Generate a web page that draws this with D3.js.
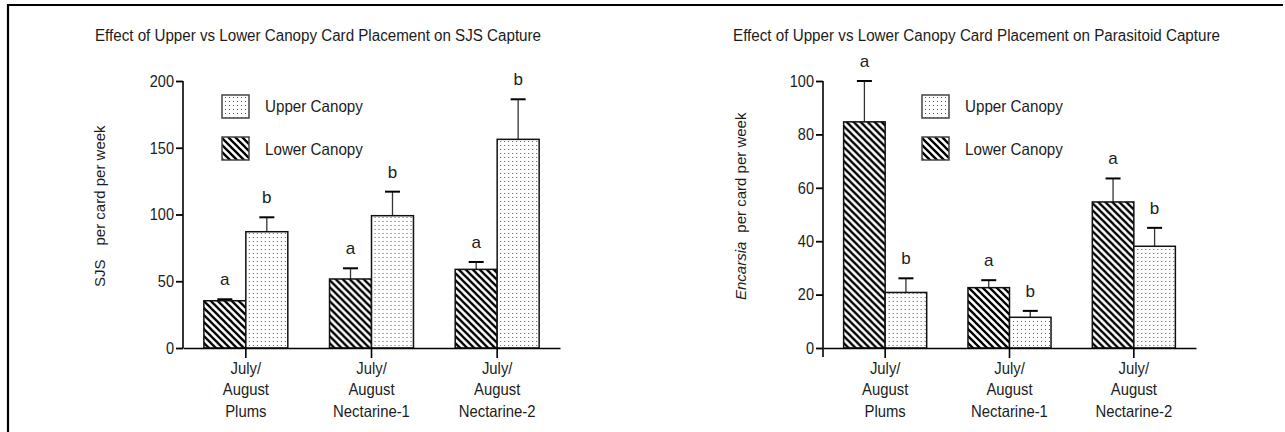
<!DOCTYPE html>
<html><head><meta charset="utf-8">
<script src="https://cdn.jsdelivr.net/npm/d3@7"></script>
<style>
body{margin:0;background:#fff}
svg{display:block}
text{font-family:"Liberation Sans",Arial,sans-serif;fill:#1c1c1c}
</style>
</head><body>
<svg id="c" width="1285" height="432"></svg>
<script>
// ---------- data ----------
const categories = [["July/","August","Plums"],["July/","August","Nectarine-1"],["July/","August","Nectarine-2"]];
const seriesNames = ["Lower Canopy","Upper Canopy"];
const legendOrder = ["Upper Canopy","Lower Canopy"];

// SJS capture (per card per week), mean and upper error
const sjsLower = [35.4, 51.7, 58.9];
const sjsLowerErr = [1.1, 8.0, 5.5];
const sjsUpper = [87.1, 99.1, 156.3];
const sjsUpperErr = [10.8, 18.0, 30.0];
const sjsLowerLetters = ["a","a","a"];
const sjsUpperLetters = ["b","b","b"];
const sjsTicks = [0, 50, 100, 150, 200];

// Encarsia capture (per card per week)
const encLower = [84.7, 22.6, 54.7];
const encLowerErr = [15.3, 2.8, 8.8];
const encUpper = [20.8, 11.5, 38.1];
const encUpperErr = [5.3, 2.4, 6.9];
const encLowerLetters = ["a","a","a"];
const encUpperLetters = ["b","b","b"];
const encTicks = [0, 20, 40, 60, 80, 100];

const titles = ["Effect of Upper vs Lower Canopy Card Placement on SJS Capture",
                "Effect of Upper vs Lower Canopy Card Placement on Parasitoid Capture"];

// ---------- drawing ----------
const SQ = 0.91; // narrow-font look
function squeeze(sel, k){
  sel.each(function(){
    const len = this.getComputedTextLength();
    d3.select(this).attr("textLength", len*(k||SQ)).attr("lengthAdjust","spacingAndGlyphs");
  });
}

const svg = d3.select("#c");
svg.append("rect").attr("width",1285).attr("height",432).attr("fill","#fff");

const defs = svg.append("defs");
const hatch = defs.append("pattern").attr("id","hatch").attr("patternUnits","userSpaceOnUse")
  .attr("width",7).attr("height",7);
hatch.append("rect").attr("width",7).attr("height",7).attr("fill","#fff");
hatch.append("path").attr("d","M-1,-1L8,8M-1,6L1,8M6,-1L8,1")
  .attr("stroke","#000").attr("stroke-width",2.3);
const dots = defs.append("pattern").attr("id","dots").attr("patternUnits","userSpaceOnUse")
  .attr("width",4).attr("height",4);
dots.append("rect").attr("width",4).attr("height",4).attr("fill","#fff");
dots.append("rect").attr("x",1).attr("y",1).attr("width",1).attr("height",1).attr("fill","#555");

const fills = {"Lower Canopy":"url(#hatch)","Upper Canopy":"url(#dots)"};

// frame
svg.append("line").attr("x1",7).attr("x2",1283).attr("y1",5).attr("y2",5).attr("stroke","#000").attr("stroke-width",2.2);
svg.append("line").attr("x1",8).attr("x2",8).attr("y1",4).attr("y2",432).attr("stroke","#000").attr("stroke-width",2.2);

function drawChart(cfg){
  const g = svg.append("g");
  const x = d3.scaleBand().domain(d3.range(categories.length)).range([cfg.x0,cfg.x1])
    .paddingInner(0.332).paddingOuter(0.166);
  const xs = d3.scaleBand().domain(seriesNames).range([0,x.bandwidth()]);
  const y = d3.scaleLinear().domain([0, d3.max(cfg.ticks)]).range([348,81]);

  // title
  g.append("text").attr("x",cfg.titleX).attr("y",40.5).attr("font-size",16)
    .attr("textLength",cfg.titleW).attr("lengthAdjust","spacingAndGlyphs").text(cfg.title);

  const rows = categories.map((c,i)=>({i,
    vals:[{s:"Lower Canopy",v:cfg.lower[i],e:cfg.lowerErr[i],l:cfg.lowerLet[i]},
          {s:"Upper Canopy",v:cfg.upper[i],e:cfg.upperErr[i],l:cfg.upperLet[i]}]}));
  const grp = g.selectAll("g.cat").data(rows).join("g").attr("class","cat")
    .attr("transform",d=>`translate(${x(d.i)},0)`);
  const item = grp.selectAll("g.it").data(d=>d.vals).join("g").attr("class","it");
  // error bars
  item.append("line").attr("x1",d=>xs(d.s)+xs.bandwidth()/2).attr("x2",d=>xs(d.s)+xs.bandwidth()/2)
    .attr("y1",d=>y(d.v)).attr("y2",d=>y(d.v+d.e)).attr("stroke","#333").attr("stroke-width",1.3);
  item.append("line").attr("x1",d=>xs(d.s)+xs.bandwidth()/2-7.5).attr("x2",d=>xs(d.s)+xs.bandwidth()/2+7.5)
    .attr("y1",d=>y(d.v+d.e)).attr("y2",d=>y(d.v+d.e)).attr("stroke","#000").attr("stroke-width",2);
  // bars
  item.append("rect").attr("x",d=>xs(d.s)).attr("width",xs.bandwidth())
    .attr("y",d=>y(d.v)).attr("height",d=>y(0)-y(d.v))
    .attr("fill",d=>fills[d.s]).attr("stroke","#111").attr("stroke-width",1.5);
  // letters
  item.append("text").attr("x",d=>xs(d.s)+xs.bandwidth()/2).attr("y",d=>y(d.v+d.e)-14)
    .attr("text-anchor","middle").attr("font-size",17).text(d=>d.l);

  // y axis
  const ya = g.append("g").attr("transform",`translate(${cfg.x0},0)`)
    .call(d3.axisLeft(y).tickValues(cfg.ticks).tickSize(7).tickPadding(2).tickSizeOuter(0));
  ya.select(".domain").remove();
  ya.append("line").attr("x1",0).attr("x2",0).attr("y1",y(d3.max(cfg.ticks))).attr("y2",y(0)+cfg.yExt)
    .attr("stroke","#000").attr("stroke-width",1.6);
  ya.selectAll(".tick line").attr("stroke","#000").attr("stroke-width",1.8);
  ya.selectAll(".tick text").attr("font-size",16.5).attr("font-family",'"Liberation Sans",Arial,sans-serif')
    .attr("fill","#1a1a2a").call(squeeze, 0.88);

  // x axis
  const xa = g.append("g").attr("transform",`translate(0,${y(0)})`)
    .call(d3.axisBottom(x).tickSize(10).tickSizeOuter(0).tickFormat(""));
  xa.select(".domain").attr("stroke","#000").attr("stroke-width",1.6);
  xa.selectAll(".tick line").attr("stroke","#000").attr("stroke-width",1.6);
  xa.selectAll(".tick").each(function(d){
    const tk = d3.select(this);
    categories[d].forEach((line,k)=>{
      tk.append("text").attr("text-anchor","middle").attr("font-size",16.5)
        .attr("font-family",'"Liberation Sans",Arial,sans-serif').attr("fill","#1c1c1c")
        .attr("x",0).attr("y",25.5+k*21.5).text(line).call(squeeze, 0.9);
    });
  });

  // y label
  const yl = g.append("text").attr("transform",`translate(${cfg.ylX},${cfg.ylY}) rotate(-90)`)
    .attr("font-size",15);
  yl.append("tspan").attr("font-style",cfg.ylItalic?"italic":"normal").text(cfg.ylA);
  yl.append("tspan").attr("dx",cfg.ylGap).text("per card per week");

  // legend
  const lg = g.append("g");
  legendOrder.forEach((s,k)=>{
    lg.append("rect").attr("x",cfg.legX).attr("y",95+k*42).attr("width",27).attr("height",23)
      .attr("fill",fills[s]).attr("stroke","#444").attr("stroke-width",1.5);
    lg.append("text").attr("x",cfg.legX+43).attr("y",111.5+k*43.5).attr("font-size",16.5).text(s)
      .call(squeeze, 0.92);
  });
}

drawChart({x0:183,x1:560,ticks:sjsTicks,lower:sjsLower,lowerErr:sjsLowerErr,upper:sjsUpper,upperErr:sjsUpperErr,
  lowerLet:sjsLowerLetters,upperLet:sjsUpperLetters,title:titles[0],titleX:95,titleW:446,
  ylX:105,ylY:287,ylA:"SJS",ylItalic:false,ylGap:14,yExt:0,legX:222});
drawChart({x0:823,x1:1196,ticks:encTicks,lower:encLower,lowerErr:encLowerErr,upper:encUpper,upperErr:encUpperErr,
  lowerLet:encLowerLetters,upperLet:encUpperLetters,title:titles[1],titleX:733,titleW:487,
  ylX:746,ylY:300,ylA:"Encarsia",ylItalic:true,ylGap:9,yExt:9,legX:922});
</script>
</body></html>
